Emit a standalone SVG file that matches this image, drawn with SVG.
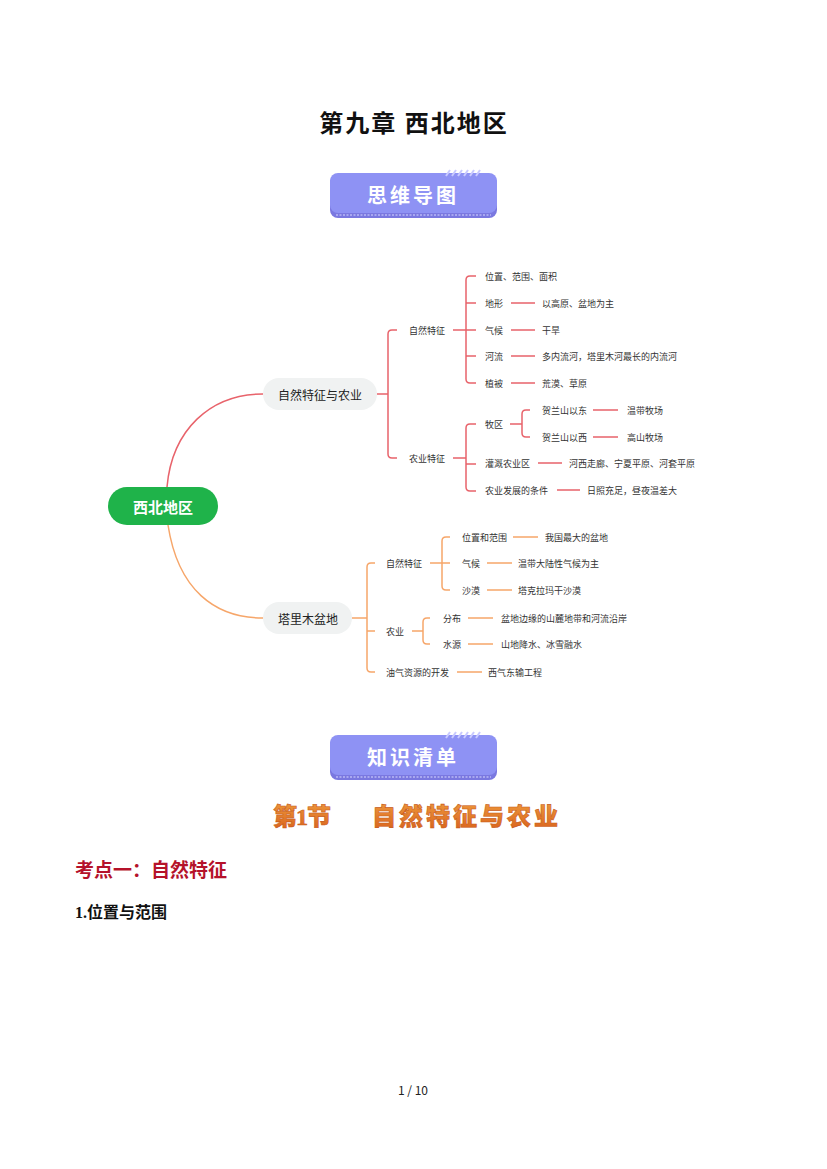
<svg xmlns="http://www.w3.org/2000/svg" width="827" height="1169" viewBox="0 0 827 1169">
<defs>
<style>
text{font-family:"Noto Sans CJK SC",sans-serif;}
.t{font-size:9px;fill:#333;dominant-baseline:central;}
.pill{font-size:12px;fill:#222;dominant-baseline:central;text-anchor:middle;}
.r{stroke:#e8636b;stroke-width:1.5;fill:none;}
.o{stroke:#f6a66a;stroke-width:1.5;fill:none;}
.badgeText{font-size:20px;font-weight:bold;fill:#fff;text-anchor:middle;letter-spacing:3px;dominant-baseline:central;}
</style>
<linearGradient id="sec" x1="0" y1="0" x2="0" y2="1">
<stop offset="0" stop-color="#f0a040"/>
<stop offset="1" stop-color="#d8601c"/>
</linearGradient>
</defs>
<rect width="827" height="1169" fill="#fff"/>

<text x="414" y="132" font-size="24" font-weight="bold" text-anchor="middle" fill="#111" letter-spacing="2">第九章 西北地区</text>

<g id="badge1">
<rect x="330" y="175" width="167" height="43" rx="8" fill="#7a78e0"/>
<rect x="330" y="173" width="167" height="40" rx="8" fill="#8e92f4"/>
<line x1="336" y1="215" x2="491" y2="215" stroke="#d8d8ff" stroke-width="1.2" stroke-dasharray="2 1.5"/>
<path d="M446,176 l4,-6 M452,176 l4,-6 M458,176 l4,-6 M464,176 l4,-6 M470,176 l4,-6 M476,176 l4,-6" stroke="#c9caff" stroke-width="2"/>
<text class="badgeText" x="413" y="194">思维导图</text>
</g>

<g id="connectors">
<path class="r" d="M167,487 C172,430 210,394 263,394"/>
<path class="o" d="M168,525 C178,590 215,618 263,618"/>
<path class="r" d="M377,394 H388 M397,330 H392 Q388,330 388,334 V454 Q388,458 392,458 H397"/>
<path class="r" d="M453,330 H466 M476,276 H470 Q466,276 466,280 V379 Q466,383 470,383 H476 M466,303 H476 M466,330 H476 M466,356 H476"/>
<path class="r" d="M511,303 H535 M511,330 H535 M511,356 H535 M511,383 H535"/>
<path class="r" d="M453,458 H466 M476,424 H470 Q466,424 466,428 V487 Q466,491 470,491 H476 M466,464 H476"/>
<path class="r" d="M510,424 H522 M530,410 H526 Q522,410 522,414 V433 Q522,437 526,437 H530"/>
<path class="r" d="M593,410 H618 M593,437 H618 M538,463 H562 M557,490 H580"/>
<path class="o" d="M352,618 H367 M375,563 H371 Q367,563 367,567 V668 Q367,672 371,672 H375 M367,631 H375"/>
<path class="o" d="M430,563 H442 M450,537 H446 Q442,537 442,541 V586 Q442,590 446,590 H450 M442,563 H450"/>
<path class="o" d="M513,537 H538 M487,563 H512 M487,590 H512"/>
<path class="o" d="M412,631 H423 M430,618 H427 Q423,618 423,622 V640 Q423,644 427,644 H430"/>
<path class="o" d="M468,618 H493 M468,644 H493 M457,672 H482"/>
</g>

<g id="root">
<rect x="108" y="487" width="110" height="38" rx="19" fill="#1fb34a"/>
<text x="163" y="506" font-size="15" font-weight="bold" fill="#fff" text-anchor="middle" dominant-baseline="central">西北地区</text>
</g>

<g id="b1">
<rect x="263" y="378" width="114" height="32" rx="16" fill="#f0f2f2"/>
<text class="pill" x="320" y="394">自然特征与农业</text>
</g>
<g id="b2">
<rect x="263" y="602" width="89" height="32" rx="16" fill="#f0f2f2"/>
<text class="pill" x="308" y="618">塔里木盆地</text>
</g>

<g id="b1-nat"><text class="t" x="409" y="330">自然特征</text></g>
<g id="b1-agr"><text class="t" x="409" y="458">农业特征</text></g>
<g id="n-loc"><text class="t" x="485" y="276">位置、范围、面积</text></g>
<g id="n-terrain"><text class="t" x="485" y="303">地形</text><text class="t" x="542" y="303">以高原、盆地为主</text></g>
<g id="n-climate"><text class="t" x="485" y="330">气候</text><text class="t" x="542" y="330">干旱</text></g>
<g id="n-river"><text class="t" x="485" y="356">河流</text><text class="t" x="542" y="356">多内流河，塔里木河最长的内流河</text></g>
<g id="n-veg"><text class="t" x="485" y="383">植被</text><text class="t" x="542" y="383">荒漠、草原</text></g>
<g id="n-past"><text class="t" x="485" y="424">牧区</text></g>
<g id="n-east"><text class="t" x="542" y="410">贺兰山以东</text><text class="t" x="627" y="410">温带牧场</text></g>
<g id="n-west"><text class="t" x="542" y="437">贺兰山以西</text><text class="t" x="627" y="437">高山牧场</text></g>
<g id="n-irr"><text class="t" x="485" y="463">灌溉农业区</text><text class="t" x="569" y="463">河西走廊、宁夏平原、河套平原</text></g>
<g id="n-cond"><text class="t" x="485" y="490">农业发展的条件</text><text class="t" x="587" y="490">日照充足，昼夜温差大</text></g>

<g id="b2-nat"><text class="t" x="386" y="563">自然特征</text></g>
<g id="b2-agr"><text class="t" x="386" y="631">农业</text></g>
<g id="b2-oil"><text class="t" x="386" y="672">油气资源的开发</text><text class="t" x="488" y="672">西气东输工程</text></g>
<g id="t-loc"><text class="t" x="462" y="537">位置和范围</text><text class="t" x="545" y="537">我国最大的盆地</text></g>
<g id="t-cli"><text class="t" x="462" y="563">气候</text><text class="t" x="518" y="563">温带大陆性气候为主</text></g>
<g id="t-des"><text class="t" x="462" y="590">沙漠</text><text class="t" x="518" y="590">塔克拉玛干沙漠</text></g>
<g id="t-dist"><text class="t" x="443" y="618">分布</text><text class="t" x="501" y="618">盆地边缘的山麓地带和河流沿岸</text></g>
<g id="t-water"><text class="t" x="443" y="644">水源</text><text class="t" x="501" y="644">山地降水、冰雪融水</text></g>

<g id="badge2">
<rect x="330" y="737" width="167" height="43" rx="8" fill="#7a78e0"/>
<rect x="330" y="735" width="167" height="40" rx="8" fill="#8e92f4"/>
<line x1="336" y1="777" x2="491" y2="777" stroke="#d8d8ff" stroke-width="1.2" stroke-dasharray="2 1.5"/>
<path d="M446,738 l4,-6 M452,738 l4,-6 M458,738 l4,-6 M464,738 l4,-6 M470,738 l4,-6 M476,738 l4,-6" stroke="#c9caff" stroke-width="2"/>
<text class="badgeText" x="413" y="756">知识清单</text>
</g>

<text x="273" y="825" font-size="24" font-weight="900" fill="url(#sec)" stroke="#c85a18" stroke-width="0.6" letter-spacing="-1">第<tspan font-family="Liberation Serif" font-weight="bold">1</tspan>节</text>
<text x="372" y="825" font-size="24" font-weight="900" fill="url(#sec)" stroke="#c85a18" stroke-width="0.6" letter-spacing="3">自然特征与农业</text>

<text x="75" y="877" font-size="19" font-weight="bold" fill="#b5122a">考点一：自然特征</text>
<text x="75" y="918" font-size="16" font-weight="bold" fill="#111"><tspan font-family="Liberation Serif">1.</tspan>位置与范围</text>

<text x="413" y="1095" font-size="12" font-family="Liberation Serif" fill="#222" text-anchor="middle">1 / 10</text>
</svg>
